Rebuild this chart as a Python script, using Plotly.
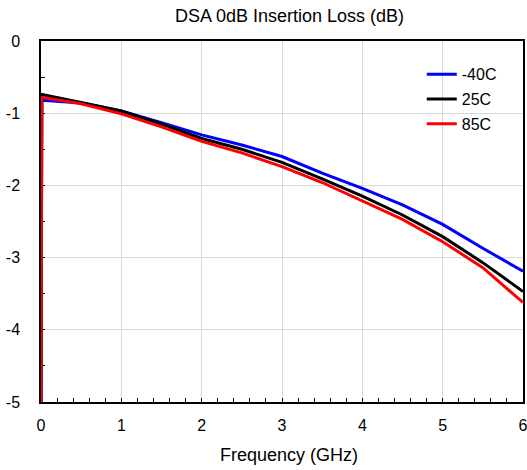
import plotly.graph_objects as go

freq_ghz = [0, 0.01, 0.5, 1, 1.5, 2, 2.5, 3, 3.5, 4, 4.5, 5, 5.5, 6]
loss_m40c = [-5, -0.82, -0.86, -0.97, -1.13, -1.30, -1.44, -1.60, -1.83, -2.04, -2.27, -2.54, -2.87, -3.19]
loss_25c = [-5, -0.74, -0.85, -0.97, -1.15, -1.35, -1.50, -1.68, -1.91, -2.15, -2.41, -2.71, -3.07, -3.47]
loss_85c = [-5, -0.78, -0.87, -1.01, -1.19, -1.39, -1.55, -1.74, -1.96, -2.21, -2.47, -2.78, -3.14, -3.62]
series_names = ["-40C", "25C", "85C"]
series_colors = ["#0000ff", "#000000", "#ff0000"]
y_tick_vals = [0, -1, -2, -3, -4, -5]
y_tick_text = ["0", "-1", "-2", "-3", "-4", "-5"]
x_tick_vals = [0, 1, 2, 3, 4, 5, 6]
x_tick_text = ["0", "1", "2", "3", "4", "5", "6"]

FONT = "Liberation Sans, Arial, sans-serif"

fig = go.Figure()
for i, (name, ys, col) in enumerate(zip(series_names, [loss_m40c, loss_25c, loss_85c], series_colors)):
    fig.add_trace(go.Scatter(x=freq_ghz, y=ys, mode="lines", name=name,
                             line=dict(color=col, width=3), legendgroup=f"g{i}"))

fig.update_layout(
    width=527, height=470,
    margin=dict(l=41, r=4, t=41, b=68, autoexpand=False),
    paper_bgcolor="white", plot_bgcolor="white",
    font=dict(family=FONT, size=16, color="black"),
    showlegend=True,
    legend=dict(x=0.79, y=0.955, xanchor="left", yanchor="top",
                bgcolor="rgba(0,0,0,0)", borderwidth=0,
                font=dict(family=FONT, size=16, color="black"),
                traceorder="grouped", tracegroupgap=1, itemwidth=30),
    title=dict(text="DSA 0dB Insertion Loss (dB)", x=0.5155, xref="paper", xanchor="center",
               y=1 - 16 / 470, yref="container", yanchor="middle",
               font=dict(family=FONT, size=18, color="black")),
    annotations=[dict(text="Frequency (GHz)", xref="paper", yref="paper", x=0.5155, y=-53 / 361,
                      xanchor="center", yanchor="middle", showarrow=False,
                      font=dict(family=FONT, size=18, color="black"))],
)

fig.update_xaxes(range=[0, 6], tickmode="array", tickvals=x_tick_vals, ticktext=x_tick_text,
                 automargin=False, ticklabeloverflow="allow", showgrid=True, gridcolor="#d9d9d9", gridwidth=1,
                 zeroline=False, showline=True, linecolor="black", linewidth=1.5, mirror=True,
                 ticks="inside", ticklen=4, tickcolor="black", ticklabelstandoff=8, layer="below traces",
                 minor=dict(dtick=0.2, tick0=0, ticks="inside", ticklen=4, tickcolor="black", showgrid=False))
fig.update_yaxes(range=[-5, 0], tickmode="array", tickvals=y_tick_vals, ticktext=y_tick_text,
                 automargin=False, ticklabeloverflow="allow", showgrid=True, gridcolor="#d9d9d9", gridwidth=1,
                 zeroline=False, showline=True, linecolor="black", linewidth=1.5, mirror=True,
                 ticks="inside", ticklen=4, tickcolor="black", ticklabelstandoff=16, layer="below traces",
                 minor=dict(dtick=0.5, tick0=0, ticks="inside", ticklen=4, tickcolor="black", showgrid=False))

fig.write_html("out.html", config={"displayModeBar": False},
               post_script="document.body.style.margin='0';document.body.style.overflow='hidden';")
